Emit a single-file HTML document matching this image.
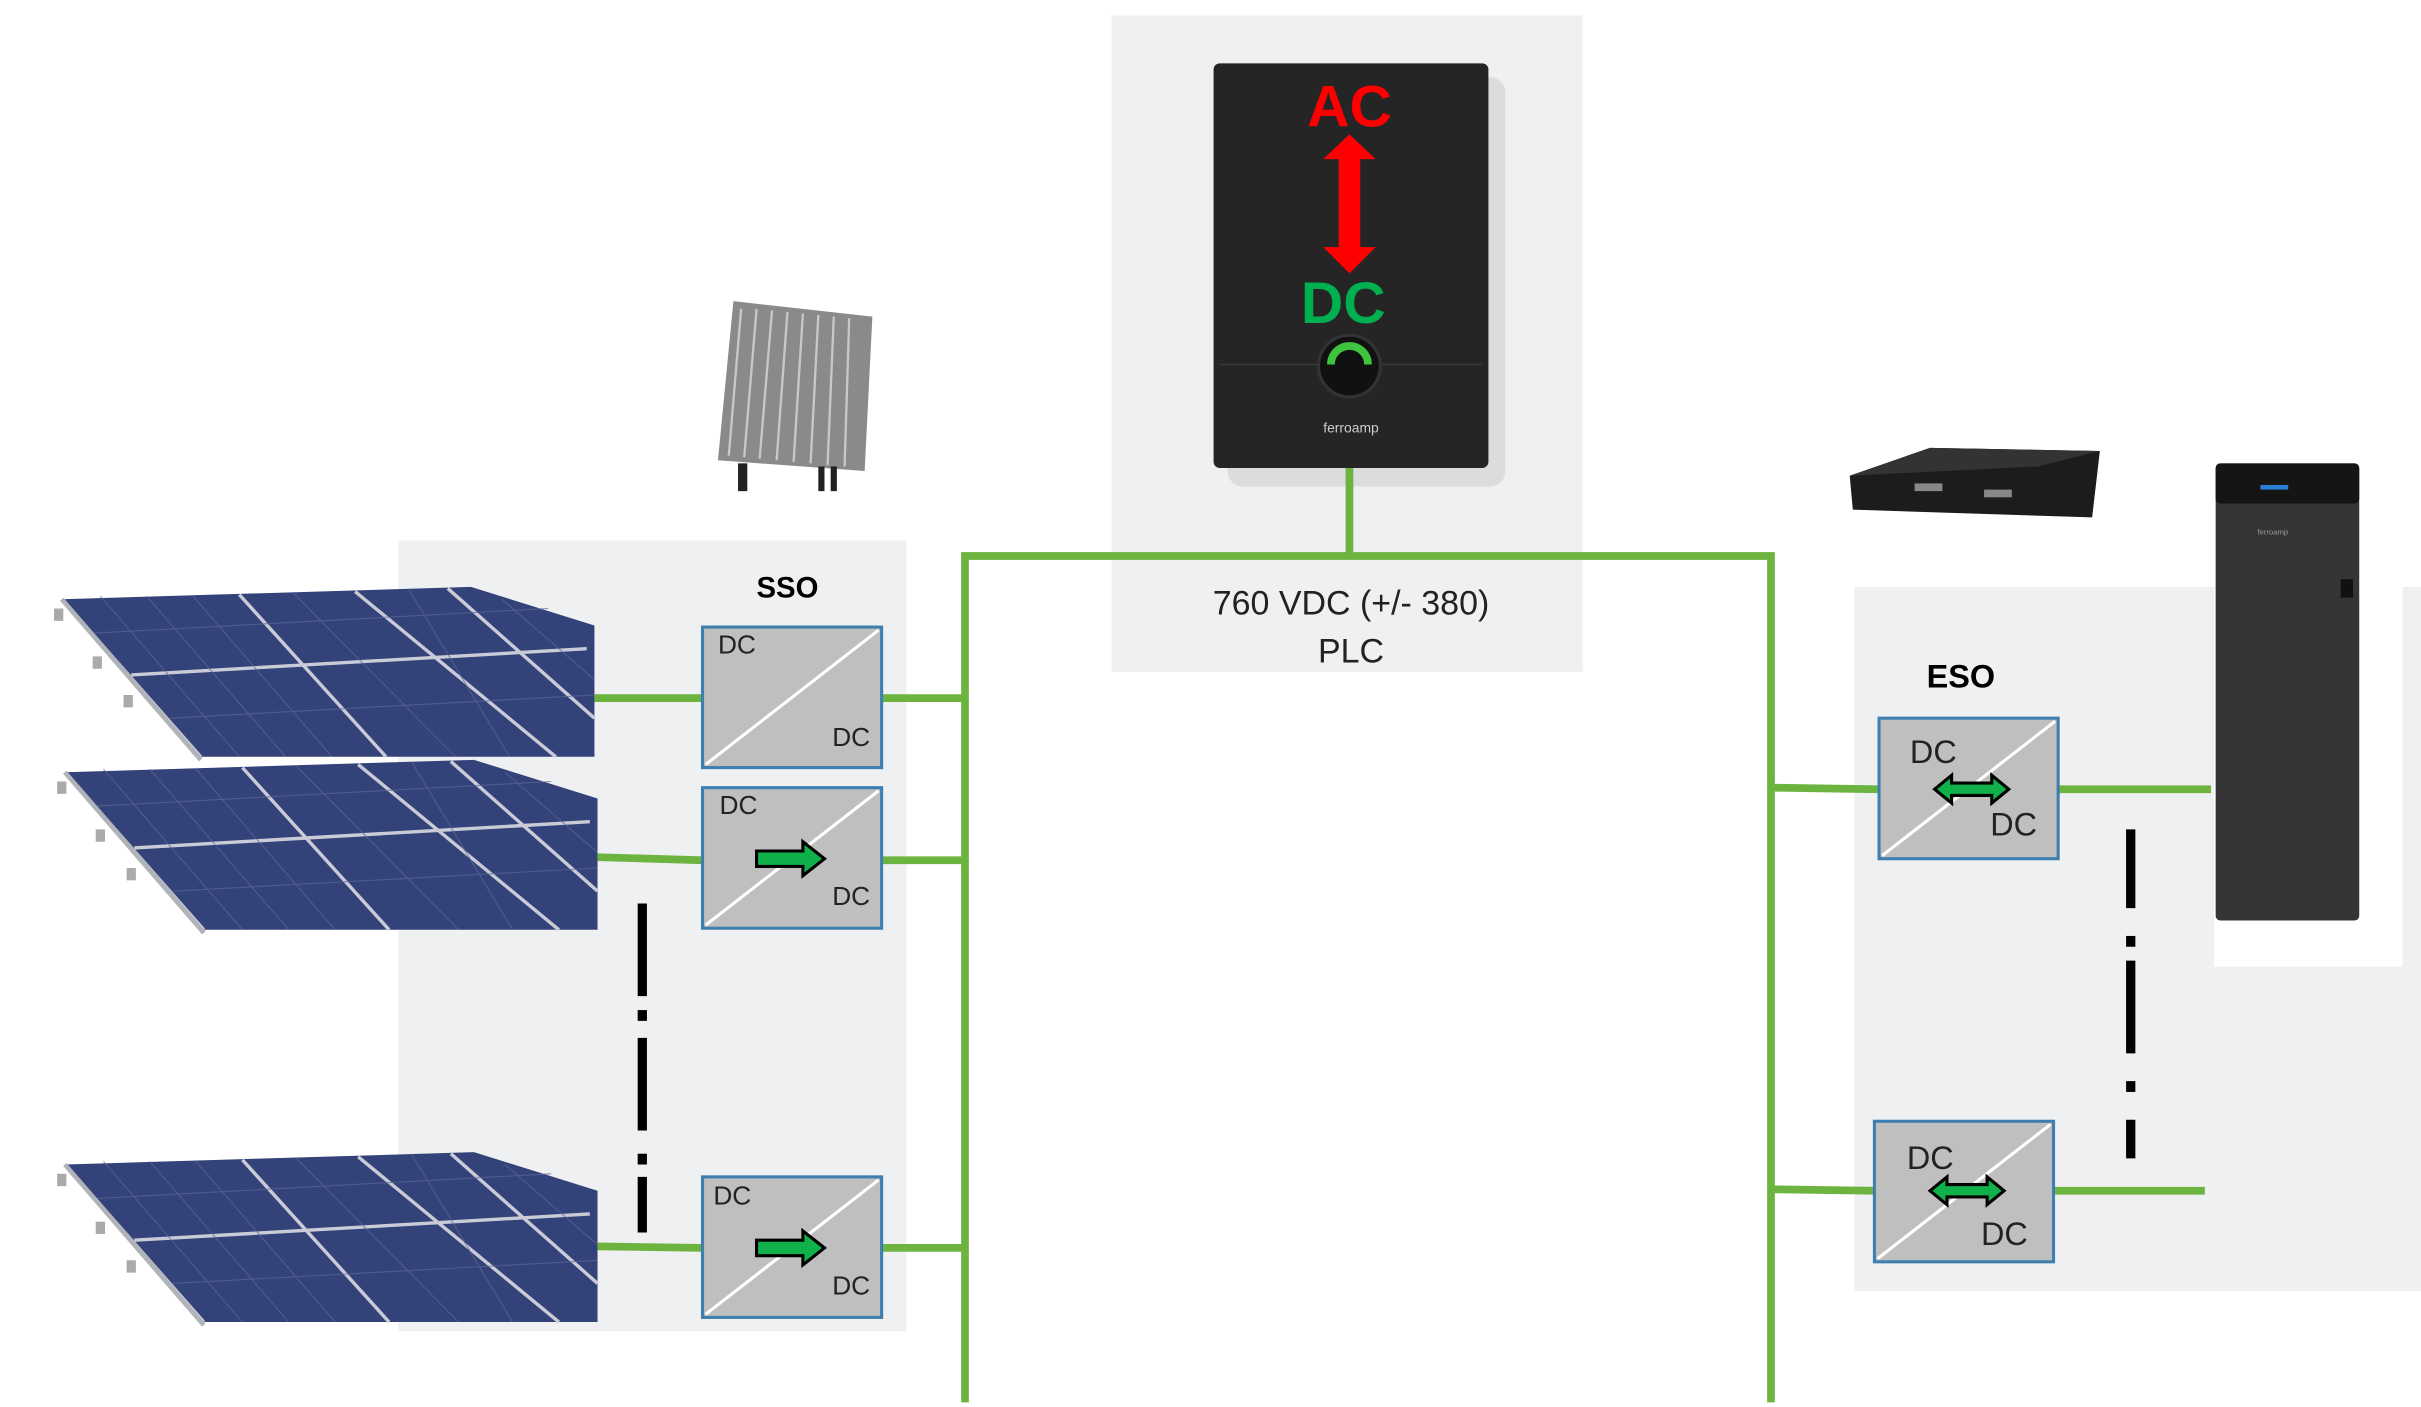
<!DOCTYPE html>
<html><head><meta charset="utf-8"><style>
html,body{margin:0;padding:0;background:#fff;}
svg{display:block;}
text{font-family:"Liberation Sans","DejaVu Sans",sans-serif;}
</style></head><body>
<svg width="2421" height="1407" viewBox="0 0 1568 911" preserveAspectRatio="none" xmlns="http://www.w3.org/2000/svg">
<defs>
<g id="panel">
<polygon points="5,8 270,0 350,25 350,110 95,110" fill="#34427a"/>
<g stroke="#c9ccd6" stroke-width="2.2" fill="none">
<line x1="5" y1="8" x2="95" y2="110"/>
<line x1="50" y1="57" x2="345" y2="40"/>
<line x1="120" y1="5" x2="215" y2="110"/>
<line x1="195" y1="3" x2="325" y2="110"/>
<line x1="255" y1="1" x2="350" y2="85"/>
</g>
<g stroke="#5a6796" stroke-width="0.7" opacity="0.7">
<line x1="30" y1="6" x2="120" y2="110"/><line x1="60" y1="6" x2="150" y2="110"/><line x1="90" y1="6" x2="180" y2="110"/>
<line x1="155" y1="4" x2="260" y2="110"/><line x1="230" y1="2" x2="295" y2="110"/><line x1="290" y1="8" x2="350" y2="60"/>
<line x1="25" y1="30" x2="320" y2="14"/><line x1="75" y1="85" x2="350" y2="70"/>
</g>
<line x1="5" y1="8" x2="95" y2="112" stroke="#b0b3b8" stroke-width="3"/>
<rect x="0" y="14" width="6" height="8" fill="#aaa"/><rect x="25" y="45" width="6" height="8" fill="#aaa"/><rect x="45" y="70" width="6" height="8" fill="#aaa"/>
</g>
<g id="conv">
<rect x="0" y="0" width="116" height="91" fill="#bfbfbf" stroke="#3f7fb0" stroke-width="2"/>
<line x1="2" y1="89" x2="114" y2="2" stroke="#fff" stroke-width="2"/>
</g>
<g id="rarrow"><polygon points="0,-5 30,-5 30,-11 44,0 30,11 30,5 0,5" fill="#10b04a" stroke="#000" stroke-width="2"/></g>
<g id="darrow"><polygon points="-24,0 -13,-9 -13,-4 13,-4 13,-9 24,0 13,9 13,4 -13,4 -13,9" fill="#10b04a" stroke="#000" stroke-width="2"/></g>
</defs>

<!-- backgrounds -->
<rect x="258" y="350" width="329" height="512" fill="#eff0f2"/>
<rect x="720" y="10" width="305" height="425" fill="#eff0f2"/>
<rect x="1201" y="380" width="367" height="456" fill="#eff0f2"/>

<!-- inverter -->
<rect x="795" y="50" width="180" height="265" rx="10" fill="#c8c8c8" opacity="0.5"/>
<rect x="786" y="41" width="178" height="262" rx="4" fill="#252525"/>
<line x1="790" y1="236" x2="960" y2="236" stroke="#3a3a3a"/>
<circle cx="874" cy="237" r="20" fill="#111" stroke="#333" stroke-width="2"/>
<path d="M862 236 A12 12 0 0 1 886 236" stroke="#3ec43e" stroke-width="5" fill="none"/>
<text x="875" y="280" font-size="9" fill="#ccc" text-anchor="middle">ferroamp</text>
<text x="874" y="82" font-size="38" font-weight="bold" fill="#ff0000" text-anchor="middle">AC</text>
<polygon points="874,87 891,103 881,103 881,160 891,160 874,177 857,160 867,160 867,103 857,103" fill="#ff0000"/>
<text x="870" y="209" font-size="38" font-weight="bold" fill="#00b050" text-anchor="middle">DC</text>
<text x="875" y="398" font-size="22" fill="#222" text-anchor="middle">760 VDC (+/- 380)</text>
<text x="875" y="429" font-size="22" fill="#222" text-anchor="middle">PLC</text>

<!-- small optimizer image -->
<polygon points="475,195 565,205 560,305 465,298" fill="#8a8a8a"/>
<g stroke="#c8c8c8" stroke-width="1.5">
<line x1="480" y1="200" x2="472" y2="295"/><line x1="490" y1="200" x2="482" y2="296"/><line x1="500" y1="201" x2="492" y2="297"/><line x1="510" y1="202" x2="503" y2="298"/><line x1="520" y1="203" x2="514" y2="299"/><line x1="530" y1="204" x2="525" y2="300"/><line x1="540" y1="205" x2="536" y2="301"/><line x1="550" y1="206" x2="547" y2="302"/>
</g>
<rect x="478" y="300" width="6" height="18" fill="#222"/><rect x="530" y="302" width="4" height="16" fill="#222"/><rect x="538" y="302" width="4" height="16" fill="#222"/>

<!-- rack device -->
<polygon points="1198,308 1250,290 1360,292 1355,335 1200,330" fill="#1c1c1c"/>
<polygon points="1198,308 1250,290 1360,292 1320,302" fill="#333"/>
<rect x="1240" y="313" width="18" height="5" fill="#888"/><rect x="1285" y="317" width="18" height="5" fill="#888"/>

<!-- battery -->
<rect x="1434" y="296" width="122" height="330" fill="#fff"/>
<rect x="1435" y="300" width="93" height="296" rx="3" fill="#353535"/>
<rect x="1435" y="300" width="93" height="26" rx="3" fill="#151515"/>
<rect x="1464" y="314" width="18" height="3" fill="#2a7fd4"/>
<rect x="1516" y="375" width="8" height="12" fill="#111"/>
<text x="1472" y="346" font-size="5" fill="#999" text-anchor="middle">ferroamp</text>

<!-- panels -->
<use href="#panel" x="35" y="380"/>
<use href="#panel" x="37" y="492"/>
<use href="#panel" x="37" y="746"/>

<!-- green wires -->
<g stroke="#6db33f" stroke-width="5" fill="none">
<polyline points="625,908 625,360 1147,360 1147,908"/>
<line x1="874" y1="303" x2="874" y2="360"/>
<line x1="385" y1="452" x2="455" y2="452"/><line x1="571" y1="452" x2="625" y2="452"/>
<line x1="387" y1="555" x2="455" y2="557"/><line x1="571" y1="557" x2="625" y2="557"/>
<line x1="387" y1="807" x2="455" y2="808"/><line x1="571" y1="808" x2="625" y2="808"/>
<line x1="1147" y1="510" x2="1217" y2="511"/><line x1="1333" y1="511" x2="1432" y2="511"/>
<line x1="1147" y1="770" x2="1214" y2="771"/><line x1="1330" y1="771" x2="1428" y2="771"/>
</g>

<!-- dash-dot -->
<g stroke="#000" stroke-width="6">
<line x1="416" y1="585" x2="416" y2="645"/><line x1="416" y1="654" x2="416" y2="661"/><line x1="416" y1="672" x2="416" y2="732"/><line x1="416" y1="747" x2="416" y2="754"/><line x1="416" y1="762" x2="416" y2="798"/>
<line x1="1380" y1="537" x2="1380" y2="588"/><line x1="1380" y1="606" x2="1380" y2="613"/><line x1="1380" y1="622" x2="1380" y2="682"/><line x1="1380" y1="700" x2="1380" y2="707"/><line x1="1380" y1="725" x2="1380" y2="750"/>
</g>

<!-- SSO -->
<text x="510" y="387" font-size="19" font-weight="bold" fill="#000" text-anchor="middle">SSO</text>
<use href="#conv" x="455" y="406"/>
<text x="465" y="423" font-size="17" fill="#222">DC</text><text x="539" y="483" font-size="17" fill="#222">DC</text>
<use href="#conv" x="455" y="510"/>
<text x="466" y="527" font-size="17" fill="#222">DC</text><text x="539" y="586" font-size="17" fill="#222">DC</text>
<use href="#rarrow" x="490" y="556"/>
<use href="#conv" x="455" y="762"/>
<text x="462" y="780" font-size="17" fill="#222">DC</text><text x="539" y="838" font-size="17" fill="#222">DC</text>
<use href="#rarrow" x="490" y="808"/>

<!-- ESO -->
<text x="1270" y="445" font-size="21" font-weight="bold" fill="#000" text-anchor="middle">ESO</text>
<use href="#conv" x="1217" y="465"/>
<text x="1237" y="494" font-size="21" fill="#222">DC</text><text x="1289" y="541" font-size="21" fill="#222">DC</text>
<use href="#darrow" x="1277" y="511"/>
<use href="#conv" x="1214" y="726"/>
<text x="1235" y="757" font-size="21" fill="#222">DC</text><text x="1283" y="806" font-size="21" fill="#222">DC</text>
<use href="#darrow" x="1274" y="771"/>
</svg>
</body></html>
